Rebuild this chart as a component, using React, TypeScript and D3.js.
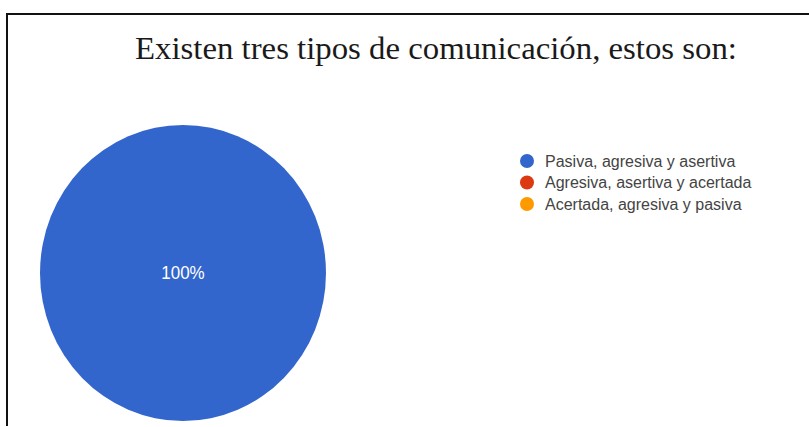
import React from "react";
import * as d3 from "d3";

const title = "Existen tres tipos de comunicación, estos son:";
const categories = [
  "Pasiva, agresiva y asertiva",
  "Agresiva, asertiva y acertada",
  "Acertada, agresiva y pasiva",
];
const values = [100, 0, 0];
const colors = ["#3366cc", "#dc3912", "#ff9900"];

const W = 809;
const H = 427;

export default function App() {
  const cx = 183;
  const cy = 273;
  const r = 143;
  const sy = 1.035;
  const total = d3.sum(values);
  const pie = d3.pie<number>().sort(null).startAngle(0).endAngle(2 * Math.PI);
  const arcs = pie(values);
  const arcGen = d3.arc<d3.PieArcDatum<number>>().innerRadius(0).outerRadius(r);
  const fmt = d3.format(".0%");

  const legendX = 527;
  const legendY = d3.scalePoint<string>().domain(categories).range([161, 204]);

  return (
    <svg
      width={W}
      height={H}
      style={{ position: "fixed", left: 0, top: 0, background: "#fff" }}
    >
      <rect x={0} y={0} width={W} height={H} fill="#fff" />
      <line x1={7} y1={14} x2={W} y2={14} stroke="#111" strokeWidth={2} />
      <line x1={7} y1={13} x2={7} y2={426} stroke="#111" strokeWidth={2} />
      <text
        x={436}
        y={59}
        textAnchor="middle"
        fontFamily="'Liberation Serif', 'Times New Roman', serif"
        fontSize={31}
        textLength={602}
        lengthAdjust="spacingAndGlyphs"
        fill="#1a1a1a"
      >
        {title}
      </text>
      <g transform={`translate(${cx},${cy}) scale(1,${sy})`}>
        {arcs.map((a, i) =>
          a.endAngle - a.startAngle > 0 ? (
            <path key={i} d={arcGen(a) || ""} fill={colors[i]} />
          ) : null
        )}
        {arcs.map((a, i) => {
          const frac = values[i] / total;
          if (frac <= 0) return null;
          const [lx, ly] =
            frac >= 0.999
              ? [0, 0]
              : d3
                  .arc<d3.PieArcDatum<number>>()
                  .innerRadius(r * 0.5)
                  .outerRadius(r)
                  .centroid(a);
          return (
            <text
              key={"l" + i}
              x={lx}
              y={ly / sy}
              dy="0.35em"
              textAnchor="middle"
              fontFamily="Arial, 'Liberation Sans', sans-serif"
              fontSize={17}
              fill="#fff"
            >
              {fmt(frac)}
            </text>
          );
        })}
      </g>
      <g>
        {categories.map((c, i) => (
          <g key={c} transform={`translate(${legendX},${legendY(c)})`}>
            <circle r={7} fill={colors[i]} />
            <text
              x={18}
              dy="0.35em"
              fontFamily="Arial, 'Liberation Sans', sans-serif"
              fontSize={16}
              fill="#444"
            >
              {c}
            </text>
          </g>
        ))}
      </g>
    </svg>
  );
}
